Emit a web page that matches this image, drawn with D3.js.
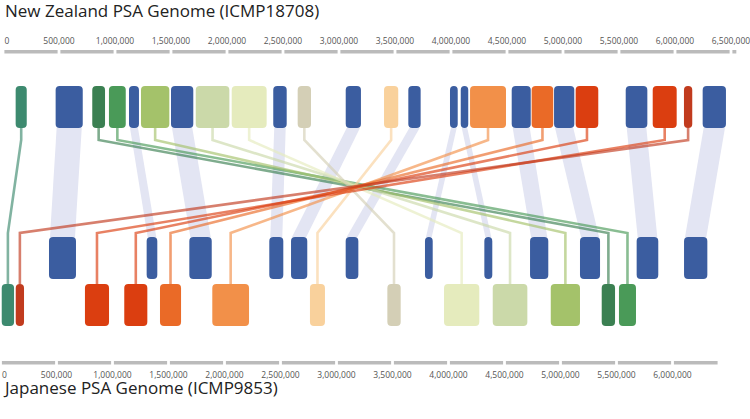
<!DOCTYPE html>
<html><head><meta charset="utf-8">
<script src="https://cdn.jsdelivr.net/npm/d3@7"></script>
<style>
body{margin:0;background:#fff;}
text{font-family:"Open Sans",sans-serif;}
</style></head>
<body><svg id="c" width="750" height="419"></svg>
<script>
// Genome lengths (bp)
const nzLength = 6560000;
const jpLength = 6415000;
const tickStep = 500000;

// Colinear (same orientation) syntenic blocks, NZ -> JP, paired by index
const colinearNZ = [[470e3,712e3],[1125e3,1214e3],[1500e3,1699e3],[2413e3,2533e3],[3060e3,3196e3],[3619e3,3729e3],[3991e3,4060e3],[4087e3,4154e3],[4542e3,4712e3],[4920e3,5101e3],[5560e3,5753e3],[6247e3,6455e3]];
const colinearJP = [[433e3,674e3],[1305e3,1400e3],[1686e3,1886e3],[2400e3,2525e3],[2594e3,2739e3],[3082e3,3195e3],[3790e3,3859e3],[4320e3,4391e3],[4728e3,4891e3],[5174e3,5353e3],[5680e3,5873e3],[6103e3,6311e3]];

// Rearranged blocks, NZ -> JP, paired by index
const rearrangedIds = ["r1","r2","r3","r4","r5","r6","r7","r8","r9","r10","r11","r12","r13"];
const rearrangedNZ = [[113e3,212e3],[797e3,911e3],[946e3,1096e3],[1232e3,1485e3],[1721e3,2021e3],[2042e3,2354e3],[2631e3,2750e3],[3402e3,3529e3],[4170e3,4491e3],[4720e3,4913e3],[5113e3,5315e3],[5801e3,6015e3],[6080e3,6154e3]];
const rearrangedJP = [[11e3,121e3],[5368e3,5487e3],[5522e3,5674e3],[4913e3,5174e3],[4395e3,4704e3],[3960e3,4275e3],[3454e3,3573e3],[2763e3,2897e3],[1891e3,2219e3],[1424e3,1612e3],[1105e3,1311e3],[754e3,969e3],[136e3,210e3]];
const rearrangedPalette = ["#3d8a6f","#3b8052","#4a9a58","#a4c26a","#cbd9a9","#e5ebbd","#d4cfb6","#f9d19c","#f29049","#ea6a27","#db3e10","#db3e10","#c13b1e"];

const titles = ["New Zealand PSA Genome (ICMP18708)", "Japanese PSA Genome (ICMP9853)"];

const svg = d3.select("#c");
const xNZ = d3.scaleLinear().domain([0, 6500000]).range([3, 731]);
const xJP = d3.scaleLinear().domain([0, 6500000]).range([0.5, 728.5]);
const color = d3.scaleOrdinal().domain(rearrangedIds).range(rearrangedPalette);
const fmt = d3.format(",");

const topY = 86, blockH = 42, track1Y = 237, track2Y = 284;
const blue = "#3b5da0";

// Titles
svg.append("text").attr("x", 5).attr("y", 17).attr("font-size", 17).attr("fill", "#222").text(titles[0]);
svg.append("text").attr("x", 5).attr("y", 394).attr("font-size", 17).attr("fill", "#222").text(titles[1]);

function axis(x, len, barY, labelY) {
  const g = svg.append("g");
  const starts = d3.range(0, len, tickStep);
  g.selectAll("rect").data(starts).join("rect")
    .attr("x", d => x(d) + 1.4)
    .attr("width", d => Math.max(0, x(Math.min(d + tickStep, len)) - x(d) - 2.8))
    .attr("y", barY).attr("height", 3.5).attr("fill", "#bbb");
  g.selectAll("text").data(d3.range(0, len + 1, tickStep)).join("text")
    .attr("x", d => d === 0 ? x(d) + 1.5 : x(d)).attr("y", labelY)
    .attr("text-anchor", d => d === 0 ? "start" : "middle").attr("font-size", 8.5).attr("fill", "#555")
    .text(d => fmt(d));
}
axis(xNZ, nzLength, 50, 44);
axis(xJP, jpLength, 361, 378);

// Colinear bands
svg.append("g").selectAll("path").data(colinearNZ.map((d, i) => [d, colinearJP[i]])).join("path")
  .attr("d", ([a, b]) => `M${xNZ(a[0]) + 1},${topY + blockH}L${xNZ(a[1]) - 1},${topY + blockH}L${xJP(b[1]) - 1},${track1Y}L${xJP(b[0]) + 1},${track1Y}Z`)
  .attr("fill", "#e3e5f3");

// Rearranged links
svg.append("g").selectAll("path").data(rearrangedIds.map((id, i) => ({id, a: rearrangedNZ[i], b: rearrangedJP[i]}))).join("path")
  .attr("d", d => {
    const sx = xNZ((d.a[0] + d.a[1]) / 2), tx = xJP((d.b[0] + d.b[1]) / 2);
    return `M${sx},${topY + blockH}V${topY + blockH + 12}L${tx},${track1Y - 4}V${track2Y}`;
  })
  .attr("fill", "none").attr("stroke", d => color(d.id)).attr("stroke-width", 2.6).attr("stroke-opacity", 0.65);

// Blocks
function blocks(data, x, y, fill) {
  svg.append("g").selectAll("rect").data(data).join("rect")
    .attr("x", d => x(d.r[0])).attr("width", d => x(d.r[1]) - x(d.r[0]))
    .attr("y", y).attr("height", blockH).attr("rx", 4)
    .attr("fill", fill);
}
blocks(colinearNZ.map(r => ({r})), xNZ, topY, blue);
blocks(rearrangedNZ.map((r, i) => ({r, id: rearrangedIds[i]})), xNZ, topY, d => color(d.id));
blocks(colinearJP.map(r => ({r})), xJP, track1Y, blue);
blocks(rearrangedJP.map((r, i) => ({r, id: rearrangedIds[i]})), xJP, track2Y, d => color(d.id));
</script></body></html>
